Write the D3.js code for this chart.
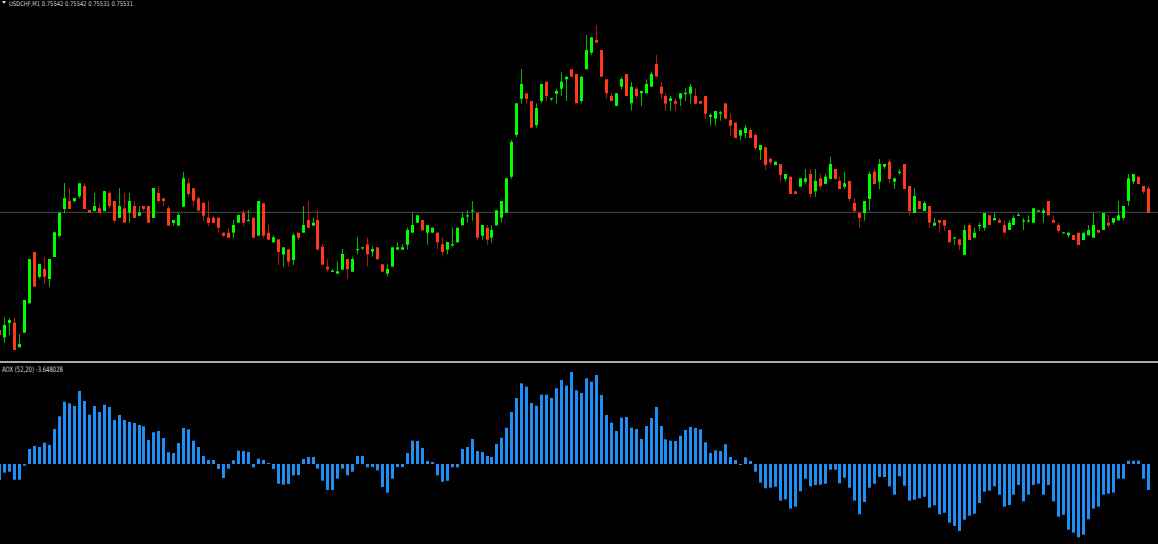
<!DOCTYPE html>
<html><head><meta charset="utf-8">
<script src="https://cdn.jsdelivr.net/npm/d3@7"></script>
<style>html,body{margin:0;padding:0;background:#000;overflow:hidden}</style>
</head><body>
<svg id="c" width="1158" height="544"></svg>
<script>
// Candle values (price points)
const open = [30,22.7,37,37.3,12.7,27.3,56.7,108,83,91,81,103,124,151,159,158.7,163.7,174,150,149,151.7,149,167,159,142,151.7,147.3,154,144.3,154,154,142,167,161.7,151.7,137,134.3,153.3,176.7,171.7,161.7,157.3,142.3,142.3,142.3,127.3,127.3,127.3,137.3,147.3,139.3,142.3,124.3,156.7,127.3,117.7,120.7,105.3,110.7,100,127.3,127.3,140,134.3,140,113.3,93.3,88.3,86.3,90.3,101,88.3,110.3,112,115.7,108.3,112.7,95.7,86.3,93.3,110.3,110.3,115.3,127.3,137.3,140,127.3,127.3,127.3,115.7,110.3,115,117.7,134.7,144,149,147.3,124.3,132.3,122.3,134.7,142.3,147.3,183.3,225,261.3,266.7,259,234.7,259,278.3,261.3,266.3,271.3,280.7,290.7,286,259,290.7,307.3,320,310,280.7,264,254,273.3,286,256.7,271.3,266.7,266.7,273.3,296,273.3,264,259,259,261.3,266.7,266.3,264,259,264,243.3,241.3,246.3,256.7,240,237.3,224.3,227,230,225,210,212.7,201,195,196,181,183.3,168.7,173.3,178.3,186,168.7,181.7,176,181,191,179,173.3,179,157,147,147,161,188.3,178.3,193.3,198.3,178.3,187.7,196,174,147,159,149,154,134.3,140,140,130,122.3,120.7,105,135,122.3,134.7,132.3,144.7,139.7,140,135,130,135,144.7,139.3,139.3,137.3,149,147,159,140,135,127.3,124.7,125,127.3,120,124.7,122.3,130,130,137.3,137.3,139.7,142,159,178.3,183.3,174,171.7];
const high = [32,42.3,42.3,42.3,26,60,101,108,96,103,101,127.7,147.3,177,171.7,162,176.7,176.7,150,167,156.7,169,169.3,159,172,167,167,159,154,154,154,172,174,161.7,154,140,147.3,188.3,181.7,171.7,164,157.3,159,144.3,142.3,127.3,132,140,145,150,150,142.3,159,156.7,135,124.3,120.7,112.7,110.7,127.3,127.3,154,159,142.3,150,116,100.7,91,98.3,111,101,103.3,122.7,112.7,122.7,113.3,112.7,95.7,95.7,112.7,117.7,115.7,132.3,147.3,144.7,140,135,132.3,127.3,122.7,118,132.7,132.3,147.3,149.7,159,147.3,135,135,135,149.7,159,181.7,220,256.7,291,266.7,259,256.7,276,278.3,262,271.3,288.3,283.3,290.7,286,283.3,325,322.7,334.7,310,280.7,266.7,266.7,283.3,286,278.3,273.3,269,280.7,288.3,305,278.3,266.7,264,261.7,266.7,271.7,276,271.7,259,264,246.7,249,249,256.7,246.7,237.3,230,235,232.3,226.7,215,212.7,202.7,198.3,196,186,183.3,168.7,181.7,191,191,191,186,186,203.3,191,183.3,188.3,179,161.7,147,159,188.3,191,201,196,201,181.7,191,196,174,171.7,159,159,154,142,140,140,130,122.7,120.7,135,137.3,132.3,137.3,147,144.7,147,142,139.7,139.7,144.7,147,142,144.7,151.7,149.7,151.7,159,144.7,137.3,127.7,127.3,125,127.3,127.3,135,147,130,147,144.7,142,159,154,186,186,183.3,174,174];
const low = [23,17.3,25,10,12.7,27.3,56.7,73.3,81.3,76,73.3,103,122.3,146.7,151,158.7,161.7,151,147.3,149,147.3,149,151.7,137.3,142,137.3,137.3,142,144.3,149.3,137.3,142,156.7,154,134.3,134.3,134.3,153.3,163.3,154,149.3,139.3,134,137,127.3,122.7,122.3,122.3,137.3,134,139.3,122.3,124.3,122,120.3,117.7,95,93.3,93.3,95,120,127.3,132.3,134.3,110.3,95.3,88.3,88.3,86.3,90.3,81,88.3,105.7,110.3,93.3,103.3,100.7,88.3,83.3,93.3,110.3,110.3,110.3,127.3,137.3,129.7,115.3,127.3,111,103.3,105.7,113,117.7,134.7,137.3,139.3,120.3,120.3,115.3,117.7,134.7,137.3,147.3,181,222.7,256.3,256.3,232.3,232.3,256.7,259,259,256.3,264,259,283.3,256.7,256.7,290.7,305,317.3,283.3,261.7,259,254,270.7,264,249.3,261.7,254,266.7,273.3,283.3,261,249,249,249,254,259,256.3,256.3,256.3,241.3,234.3,234.3,239.3,241.3,224.3,222,219.3,222,222,210,200,190,195,195,178.3,178.7,166,166,173.3,176,163.3,163.3,171,176,181,181,171,171,158.3,147.7,132,139.3,149.3,176,171,191,176.7,171,185.7,171,144.3,147,151,149,132,134.3,127.3,129.3,117.7,115,110,105,120,122.3,129.3,129.3,135,139.7,137.3,127.3,130,135,144.7,130,137.3,137.3,147.7,137.3,144.7,137.3,127.3,127.3,122.3,120,115,120,124.7,122.3,127.3,130,132.3,135,139.7,139.7,154,176,176,166,147];
const close = [25,35,40,10,16,60,101,73.3,96,83.3,101,127.7,147.3,162,151,162,176.7,151,147.3,154,147.3,169,154,139.3,154,137.3,159,142,147.3,151,137.3,172,159,159,134.3,140,145,181.7,166,159.3,149.3,144.3,137,137,132.3,124.3,122.3,135,145,137.3,140,122.3,159,124.3,120.3,122.7,108,112.7,98.3,125,122.3,135,132.3,137.3,110.3,95.3,90.7,89.3,88.7,106,90.7,101,111,112.7,105.7,111,100.7,88.3,91,112.7,112.7,112.7,130,135,144.7,129.7,135,132.3,117.7,108,118,115.7,132.3,142.3,144.7,149.7,122.3,135,120.3,130,149.7,159,181.7,218,256.7,276,261.3,232.3,252,276,264,262,269,278.3,283.3,283.3,256.7,283.3,310,322.7,317.3,283.3,266.7,259,266.7,281,264,273.3,264,269,276,286,283.3,266.3,256.3,261.7,256.3,266.7,267.3,273.3,256.3,256.3,246.3,245,249,247.7,241.3,234.3,222,230,232.3,222,212,215,195,197.7,198.3,185,186,166,166,181.7,181.7,166,179,173.7,183.3,196,181,171,176.7,161,149,142,159,186,176,196,196,181,181.7,188.3,171,149,164,151,157,137.3,137.3,137.3,134.3,117.7,122.7,115,130,120,127.3,135,147,135,142,137.3,127.3,137.3,142,145.3,139.7,139.7,151.7,149.7,149.7,144.7,137.3,129.3,127.7,127.3,120,115,127.3,130,135,127.3,147,134.7,142,144.7,154,181.7,186,176,168.3,147];
// Indicator histogram values
const aox = [-16,-8.7,-7.7,-15.7,-15.7,-1.7,15,18,17,21.3,19,35,47.7,62.3,60.7,58,73,63,49.3,58,52,59.3,57,44,49,44,42,41,39,37.7,24,31.7,33,26,11.7,11,21,36,34.7,23.3,17,8,4,4,-5,-14,-4.7,3.7,13.3,13,12,-3.3,5.3,4,1,-5,-19.7,-20.7,-20,-11.3,-11,5,7,7,-4.7,-16.7,-26,-26,-14.7,-4.7,-11.3,-7.7,8,8,-3.3,-3,-6.3,-23,-28.7,-14.7,-3,-3,11,23.3,23,16,3,2,-11.3,-17.7,-16.7,-3.3,-3.3,15,17,25,13,12,8,7,20,26.3,36.3,52,66,80.7,77.3,61,58.3,69.3,69.3,66,75.7,84,78.3,92,73.7,71,85.7,82.3,89,69,49,41.3,33,46.3,47,36.3,35,25,38,46,57,38,24.7,23.3,23,28.3,34,37,36,34.7,21.7,11,13.7,13,19.7,7,4,-0.7,6.7,3,-7.7,-18.7,-24.3,-23.7,-22.7,-36.7,-35.3,-44.7,-42.7,-27.3,-14.7,-22.3,-21,-20.7,-19.7,-5.7,-5.7,-19.3,-13.7,-23.7,-36.7,-50.3,-38,-23.7,-19.7,-13,-13,-22.3,-30.7,-12.3,-21.7,-36.7,-35.7,-34.3,-32.7,-43.7,-41.3,-50.3,-48.7,-58.7,-62,-67,-55.7,-51.7,-49.7,-39,-27.7,-26.7,-22.3,-30.7,-42.7,-41,-30.7,-21,-37.3,-30.7,-21,-19.7,-30.7,-21,-37.3,-52.7,-50.7,-65.7,-68.7,-73.3,-70.7,-55.3,-44.7,-42.7,-30.7,-29.7,-28.7,-14.7,-14.7,3.3,3.3,3.3,-14.7,-26];
const hLineLevel = 147.7;
const symbolLabel = "USDCHF,M1  0.75542 0.75542 0.75531 0.75531";
const indicatorLabel = "AOX (52,20) -3.648028";

const svg = d3.select("#c");
const W = 1158;
const n = close.length;
const x = d3.scaleLinear().domain([0, n - 1]).range([-0.7, 1147.7]);
const yP = d3.scaleLinear().domain([0, 360]).range([360, 0]);
const yA = d3.scaleLinear().domain([-80, 100]).range([544, 364]);

svg.append("rect").attr("width", W).attr("height", 544).attr("fill", "#000");

// horizontal level line
svg.append("line").attr("x1", 0).attr("x2", W)
  .attr("y1", yP(hLineLevel)).attr("y2", yP(hLineLevel))
  .attr("stroke", "#4a4a52").attr("stroke-width", 1);

const idx = d3.range(n);
const g = svg.append("g");
const px = i => Math.round(x(i));
g.selectAll("line.w").data(idx).join("line").attr("class", "w")
  .attr("x1", i => px(i) + 0.5).attr("x2", i => px(i) + 0.5)
  .attr("y1", i => yP(high[i])).attr("y2", i => yP(low[i]))
  .attr("stroke", i => close[i] >= open[i] ? "#00b800" : "#b81410")
  .attr("stroke-width", 1);
g.selectAll("rect.b").data(idx).join("rect").attr("class", "b")
  .attr("x", i => px(i) - 1).attr("width", 3)
  .attr("y", i => yP(Math.max(open[i], close[i])))
  .attr("height", i => Math.max(1.2, Math.abs(yP(open[i]) - yP(close[i]))))
  .attr("fill", i => close[i] >= open[i] ? "#00ff00" : "#ff3a1a");

// pane separator
svg.append("rect").attr("x", 0).attr("y", 361).attr("width", W).attr("height", 2).attr("fill", "#a8a8a8");

// histogram
svg.append("g").selectAll("rect").data(idx).join("rect")
  .attr("x", i => px(i) - 1).attr("width", 3)
  .attr("y", i => Math.min(yA(aox[i]), yA(0)))
  .attr("height", i => Math.max(1, Math.abs(yA(aox[i]) - yA(0))))
  .attr("fill", "#1e8ff5");

// labels
svg.append("path").attr("d", "M2,1 L6,1 L4,4 Z").attr("fill", "#ddd");
svg.append("text").attr("x", 9).attr("y", 6).attr("font-family", "DejaVu Sans, sans-serif")
  .attr("font-size", 6.5).attr("fill", "#cfcfcf")
  .attr("textLength", 124).attr("lengthAdjust", "spacingAndGlyphs").text(symbolLabel);
svg.append("text").attr("x", 2).attr("y", 372).attr("font-family", "DejaVu Sans, sans-serif")
  .attr("font-size", 7.5).attr("fill", "#d8d8d8")
  .attr("textLength", 61).attr("lengthAdjust", "spacingAndGlyphs").text(indicatorLabel);
</script>
</body></html>
